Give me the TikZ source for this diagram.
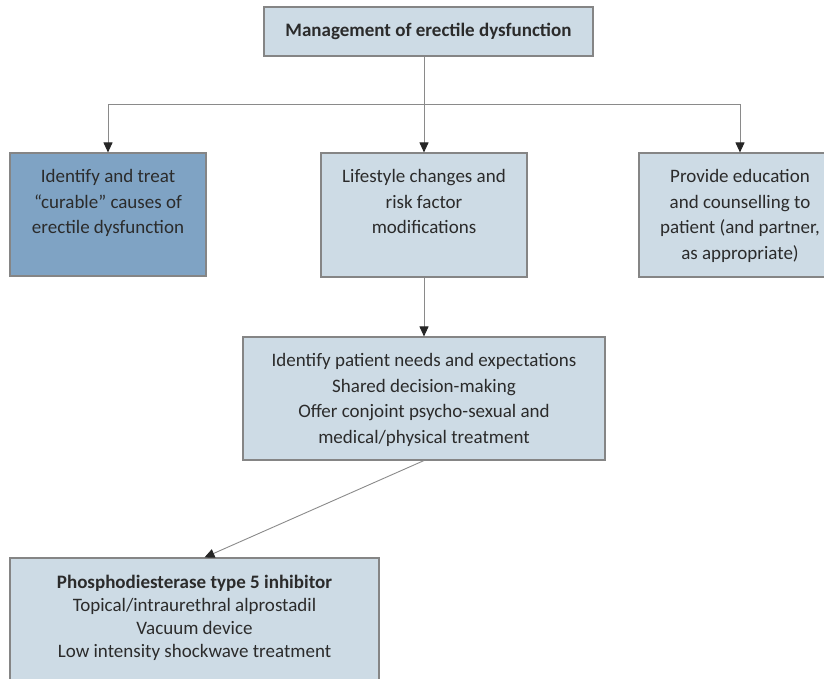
\documentclass[tikz,border=0pt]{standalone}
\usepackage{fontspec}
\setmainfont{Carlito}
\usetikzlibrary{arrows.meta,calc}
\definecolor{boxfill}{HTML}{CDDBE5}
\definecolor{darkfill}{HTML}{7FA3C4}
\definecolor{boxline}{HTML}{858585}
\definecolor{txtcol}{HTML}{2B2B2B}
\definecolor{linecol}{HTML}{8A8A8A}
\tikzset{
  x=1pt, y=-1pt,
  lightbox/.style={draw=boxline, line width=1.1pt, fill=boxfill, inner sep=0pt},
  darkbox/.style={draw=boxline, line width=1.1pt, fill=darkfill, inner sep=0pt},
  txt/.style={text=txtcol, align=center, inner sep=0pt, anchor=north,
              font=\fontsize{19}{25.5}\selectfont},
  conn/.style={draw=linecol, line width=0.9pt},
  tip/.tip={Triangle[width=9pt,length=10pt,color=black!85]},
  arr/.style={conn, -tip},
}
\begin{document}
\begin{tikzpicture}
\useasboundingbox (0,0) rectangle (824,679);
\clip (0,0) rectangle (824,679);
% boxes
\node[lightbox, minimum width=329pt, minimum height=49pt] (top) at (428.5,31.5) {};
\node[darkbox, minimum width=196pt, minimum height=123pt] (left) at (108,214.5) {};
\node[lightbox, minimum width=206pt, minimum height=124pt] (mid) at (424,215) {};
\node[lightbox, minimum width=202pt, minimum height=124pt] (right) at (740,215) {};
\node[lightbox, minimum width=362pt, minimum height=123pt] (cen) at (424,398.5) {};
\node[lightbox, minimum width=369pt, minimum height=142pt] (bot) at (194.5,629) {};
% texts
\node[txt, anchor=center, font=\fontsize{19}{22}\selectfont\bfseries] (ttop) at (top.center) {Management of erectile dysfunction};
\node[txt] (tleft) at ([yshift=-17pt]left.north) {Identify and treat\\``curable'' causes of\\erectile dysfunction};
\node[txt] (tmid) at ([yshift=-17pt]mid.north) {Lifestyle changes and\\risk factor\\modifications};
\node[txt] (tright) at ([yshift=-17pt]right.north) {Provide education\\and counselling to\\patient (and partner,\\as appropriate)};
\node[txt] (tcen) at ([yshift=-17pt]cen.north) {Identify patient needs and expectations\\Shared decision-making\\Offer conjoint psycho-sexual and\\medical/physical treatment};
\node[txt, font=\fontsize{19}{22.7}\selectfont] (tbot) at ([yshift=-18pt]bot.north) {\textbf{Phosphodiesterase type 5 inhibitor}\\Topical/intraurethral alprostadil\\Vacuum device\\Low intensity shockwave treatment};
% connectors
\coordinate (hub) at (424,104.5);
\draw[arr] (hub |- top.south) -- (mid.north);
\draw[conn, tip-tip] (left.north) |- (hub -| right.north) -- (right.north);
\draw[arr] (mid.south) -- (cen.north);
\draw[arr] (cen.south) -- ([xshift=10pt]bot.north);
\end{tikzpicture}
\end{document}
